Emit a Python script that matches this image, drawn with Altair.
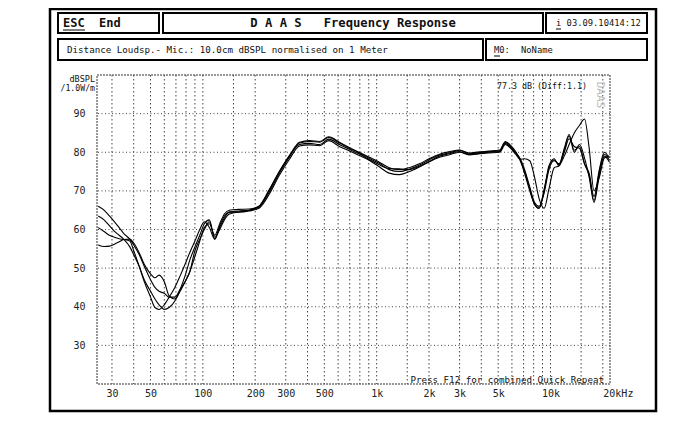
import altair as alt
import pandas as pd

FONT = "DejaVu Sans Mono"

# ---------------- data ----------------
freq = [25, 27, 29, 31, 33, 35, 38, 40, 43, 46, 50, 53, 56, 60, 64, 69, 74, 79, 84, 90,
        96, 102, 109, 117, 125, 133, 142,
        160, 185, 210, 240, 275, 315, 360, 410, 470, 530, 610, 700, 790, 900, 1030, 1180,
        1350, 1540, 1760, 2000, 2300, 2600, 3000, 3400, 3900, 4400,
        5100, 5500, 5900, 6300, 6700, 7100, 7600, 8100, 8600, 9200, 9800, 10500, 11200,
        12000, 12800, 13700, 14700, 15700, 16700, 17800, 19100, 20400, 21800]

curve_a = [60.5, 59.5, 58.5, 58.0, 57.6, 57.4, 57.0, 54.5, 50.5, 46.5, 42.5, 39.8, 39.3, 40.5,
           42.5, 45.0, 48.0, 51.0, 54.0, 57.0, 60.0, 62.0, 60.5, 57.5, 61.0, 63.5, 64.5,
           64.8, 65.0, 65.8, 69.5, 74.5, 78.8, 82.4, 82.8, 82.6, 83.8, 82.4, 81.0, 79.9, 78.5,
           77.2, 75.5, 75.0, 75.6, 76.7, 78.0, 79.3, 79.8, 80.5, 79.6, 79.9, 80.1,
           80.4, 82.6, 81.5, 80.0, 77.8, 75.0, 70.5, 66.5, 65.5, 70.0, 76.5, 78.3, 76.5,
           80.5, 84.2, 80.5, 81.5, 77.0, 74.0, 67.5, 75.0, 79.5, 78.0]

curve_b = [56.0, 55.6, 55.7, 56.2, 56.8, 57.4, 57.5, 56.5, 54.0, 51.0, 48.5, 47.5, 48.2, 46.5,
           42.8, 42.0, 44.0, 46.5, 49.0, 53.0, 57.0, 60.5, 61.5, 58.5, 61.5, 64.0, 65.0,
           65.2, 65.3, 66.0, 70.0, 74.8, 79.0, 82.0, 82.3, 82.0, 83.4, 82.0, 80.7, 79.6, 78.2,
           76.8, 75.8, 75.7, 75.5, 76.4, 77.6, 79.0, 79.6, 80.2, 79.4, 79.7, 80.0,
           80.2, 82.3, 81.2, 79.8, 78.3, 75.5, 71.0, 67.0, 66.0, 69.5, 75.5, 77.8, 77.0,
           81.0, 84.6, 80.0, 82.0, 78.5, 73.5, 67.0, 74.0, 79.0, 77.5]

curve_c = [63.5, 62.5, 61.0, 59.5, 58.5, 57.5, 55.5, 53.5, 50.5, 47.0, 44.0, 42.0, 40.5, 39.3,
           39.8, 41.5, 44.5, 48.0, 52.0, 55.5, 58.5, 61.5, 62.5, 57.5, 60.5, 63.0, 64.5,
           64.5, 64.8, 65.5, 69.0, 74.0, 78.2, 81.6, 81.9, 81.7, 83.0, 81.5, 80.3, 79.2, 78.0,
           76.3, 74.6, 74.2, 75.0, 76.2, 77.5, 78.7, 79.3, 80.0, 79.3, 79.6, 79.8,
           80.0, 82.0, 81.0, 79.5, 78.2, 78.3, 77.8, 73.5, 68.0, 65.5, 70.5, 76.0, 76.5,
           79.0, 82.0, 85.0, 87.0, 88.6, 81.0, 70.0, 73.5, 78.5, 79.0]

curve_d = [66.0, 65.0, 63.5, 62.0, 60.5, 59.0, 57.5, 56.0, 53.5, 50.5, 47.0, 45.0, 44.0, 43.5,
           42.5, 42.5, 44.5, 46.5, 49.0, 54.5, 57.5, 60.0, 62.0, 58.0, 60.0, 62.5, 64.0,
           64.5, 65.0, 66.0, 70.2, 75.0, 79.2, 82.6, 83.0, 82.8, 84.0, 82.6, 81.2, 80.0, 78.8,
           77.5, 76.0, 75.5, 76.0, 77.0, 78.3, 79.5, 80.1, 80.6, 79.8, 80.1, 80.3,
           80.6, 82.8, 81.8, 80.2, 78.0, 74.5, 70.0, 66.5, 65.5, 70.5, 76.0, 78.0, 76.8,
           80.0, 83.5, 81.5, 81.0, 77.0, 74.5, 68.5, 75.5, 80.0, 78.5]

curve_names = ["M1", "M2", "M3", "M4"]
curve_values = [curve_a, curve_b, curve_c, curve_d]

x_tick_values = [30, 50, 100, 200, 300, 500, 1000, 2000, 3000, 5000, 10000, 20000]
x_tick_labels = ["30", "50", "100", "200", "300", "500", "1k", "2k", "3k", "5k", "10k", "20kHz"]
y_tick_values = [30, 40, 50, 60, 70, 80, 90]
x_grid = [30, 40, 50, 60, 70, 80, 90, 100, 150, 200, 300, 400, 500, 600, 700, 800, 900,
          1000, 1500, 2000, 3000, 4000, 5000, 6000, 7000, 8000, 9000, 10000, 15000, 20000]
y_grid = [30, 40, 50, 60, 70, 80, 90]

# ---------------- build ----------------
rows = []
for name, vals in zip(curve_names, curve_values):
    for f, v in zip(freq, vals):
        rows.append({"curve": name, "freq": f, "db": v})
df = pd.DataFrame(rows)

xscale = alt.Scale(type="log", domain=[24.6, 22000], nice=False)
yscale = alt.Scale(domain=[20, 100], nice=False)

vals_js = "[" + ",".join(str(v) for v in x_tick_values) + "]"
labs_js = "[" + ",".join("'" + s + "'" for s in x_tick_labels) + "]"
label_expr = f"{labs_js}[indexof({vals_js}, datum.value)]"

x_axis = alt.Axis(
    values=x_tick_values, labelExpr=label_expr, title=None, labelPadding=4,
    labelOverlap=False, labelBound=False, labelFlush=False,
    labelAlign={"condition": {"test": "datum.value == 20000", "value": "left"},
                "value": "center"})
y_axis = alt.Axis(values=y_tick_values, title=None, labelPadding=12)

one = pd.DataFrame({"k": [0]})
SP = "\u00a0"


def box(x1, y1, x2, y2, sw=2.0):
    return alt.Chart(one).mark_rect(fillOpacity=0, stroke="black", strokeWidth=sw).encode(
        x=alt.value(x1), x2=alt.value(x2), y=alt.value(y1), y2=alt.value(y2))


def txt(text, x, y, size=9.2, bold=False, align="left", angle=0, color="#111"):
    return alt.Chart(one).mark_text(
        text=text, align=align, baseline="middle", font=FONT, fontSize=size,
        fontWeight="bold" if bold else "normal", angle=angle, color=color
    ).encode(x=alt.value(x), y=alt.value(y))


def uline(x1, x2, y):
    return alt.Chart(one).mark_rule(color="black", strokeWidth=1).encode(
        x=alt.value(x1), x2=alt.value(x2), y=alt.value(y))


hgrid = alt.Chart(pd.DataFrame({"g": y_grid})).mark_rule(
    color="#444", strokeWidth=1, strokeDash=[1, 2.5]
).encode(y=alt.Y("g:Q", scale=yscale, axis=y_axis))

vgrid = alt.Chart(pd.DataFrame({"g": x_grid})).mark_rule(
    color="#444", strokeWidth=1, strokeDash=[1.5, 2.5]
).encode(x=alt.X("g:Q", scale=xscale, axis=x_axis))

lines = alt.Chart(df).mark_line(
    interpolate="monotone", color="black", strokeWidth=1.1, clip=True
).encode(
    x=alt.X("freq:Q", scale=xscale, axis=x_axis),
    y=alt.Y("db:Q", scale=yscale, axis=y_axis),
    detail="curve:N",
)

frames = [
    box(-47, -66, 559, 336, 2.5),
    box(-39, -62, 62, -42),
    box(66, -62, 446, -42),
    box(449, -62, 550, -42),
    box(-39, -36, 386, -15),
    box(389, -36, 550, -15),
]

texts = [
    txt("ESC" + SP + SP + "End", -34, -52, size=12, bold=True),
    uline(-34, -12, -45),
    txt("D A A S" + SP + SP + SP + "Frequency Response", 256, -52, size=12.2, bold=True,
        align="center"),
    txt("i 03.09.10414:12", 459, -52, size=8.8),
    uline(459, 464, -46),
    txt("Distance Loudsp.- Mic.: 10.0cm dBSPL normalised on 1 Meter", -30, -25, size=9.2),
    txt("M0:", 397, -25, size=8.8),
    uline(397, 403, -19),
    txt("NoName", 424, -25, size=8.8),
    txt("dBSPL", -2, 3.5, size=8.5, align="right"),
    txt("/1.0W/m", -2, 13.5, size=8.2, align="right"),
    txt("77.3 dB (Diff:1.1)", 490, 12, size=8.3, align="right"),
    txt("DAAS", 503, 20, size=11, angle=90, color="#bbbbbb", align="center"),
    txt("Press F12 for combined Quick Repeat", 507, 305, size=9.2, align="right"),
]

chart = alt.layer(hgrid, vgrid, *frames, lines, *texts).properties(
    width=513, height=309,
    padding={"left": 89, "top": 67, "right": 70, "bottom": 30},
    autosize="none",
    background="white",
).configure_view(
    stroke="#777", strokeWidth=1.5, strokeDash=[2, 1]
).configure_axis(
    labelFont=FONT, labelFontSize=10, labelColor="#222", ticks=False, domain=False, grid=False
)

chart.save("out.html", embed_options={"renderer": "svg", "actions": False})
